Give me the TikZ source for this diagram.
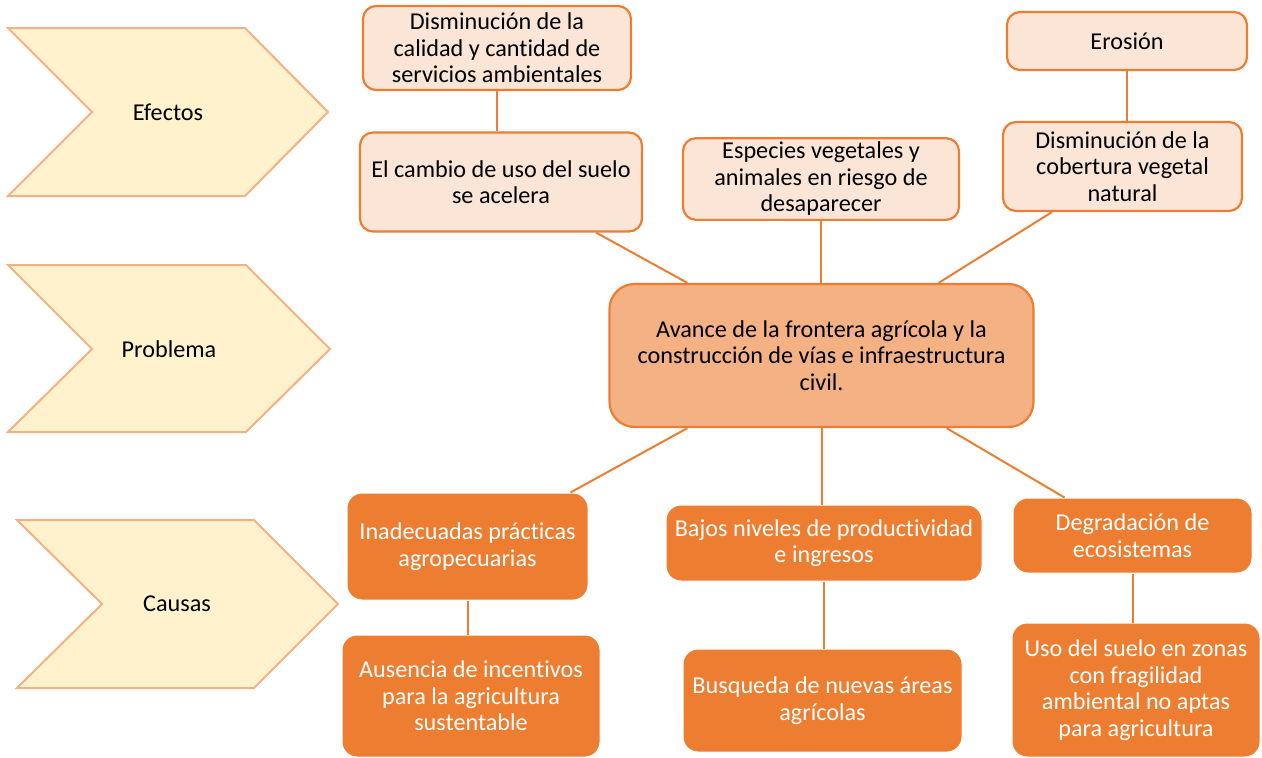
\documentclass[tikz,border=0pt]{standalone}
\usepackage{fontspec}
\setmainfont{Carlito}[Ligatures=NoCommon]
\usepackage{xcolor}
\usepackage{tikz}
\usetikzlibrary{positioning, calc}

\definecolor{naranja}{HTML}{ED7D31}
\definecolor{durazno}{HTML}{FBE5D6}
\definecolor{salmon}{HTML}{F4B183}
\definecolor{crema}{HTML}{FFF2CC}

\begin{document}
\begin{tikzpicture}[x=1pt, y=-1pt,
    font=\fontsize{24.2}{26.5}\selectfont,
    efecto/.style={draw=naranja, line width=2.2pt, fill=durazno, rounded corners=13pt, align=center, inner sep=4pt},
    causa/.style={draw=white, line width=1pt, fill=naranja, text=white, rounded corners=15pt, align=center, inner sep=4pt},
    nivel/.style={draw=salmon, line width=2pt, fill=crema},
    enlace/.style={draw=naranja, line width=2pt}]
    \useasboundingbox (0,0) rectangle (1262,758);

    % Niveles
    \draw[nivel] (8,28) -- (245,28) -- (328,112) -- (245,196) -- (8,196) -- (92,112) -- cycle;
    \node (efectos) at (168,112) {Efectos};
    \draw[nivel] (8,265) -- (246,265) -- (330,349) -- (246,432) -- (8,432) -- (92,349) -- cycle;
    \node (problema) at (169,349) {Problema};
    \draw[nivel] (17,520) -- (254,520) -- (338,604) -- (254,688) -- (17,688) -- (102,604) -- cycle;
    \node (causas) at (177,604) {Causas};

    % Efectos
    \node[efecto, minimum width=268pt, minimum height=84pt] (e1) at (497,48) {Disminución de la\\calidad y cantidad de\\servicios ambientales};
    \node[efecto, minimum width=282pt, minimum height=99pt] (e2) at (501,182) {El cambio de uso del suelo\\se acelera};
    \node[efecto, minimum width=276pt, minimum height=78pt] (e3) at (821,179) {Especies vegetales y\\animales en riesgo de\\desaparecer};
    \node[efecto, minimum width=240pt, minimum height=58pt] (e4) at (1127,41) {Erosión};
    \node[efecto, minimum width=239pt, minimum height=89pt] (e5) at (1122.5,166.5) {Disminución de la\\cobertura vegetal\\natural};

    % Problema
    \node[efecto, fill=salmon, rounded corners=25pt, minimum width=424pt, minimum height=143pt] (centro) at (821.5,355.5) {Avance de la frontera agrícola y la\\construcción de vías e infraestructura\\civil.};

    % Causas
    \node[causa, minimum width=241pt, minimum height=107pt] (c1) at (467.5,546.5) {Inadecuadas prácticas\\agropecuarias};
    \node[causa, minimum width=258pt, minimum height=122pt] (c2) at (471,696) {Ausencia de incentivos\\para la agricultura\\sustentable};
    \node[causa, minimum width=316pt, minimum height=76pt] (c3) at (824,543) {Bajos niveles de productividad\\e ingresos};
    \node[causa, minimum width=279pt, minimum height=103pt] (c4) at (822.5,700.5) {Busqueda de nuevas áreas\\agrícolas};
    \node[causa, minimum width=239pt, minimum height=75pt] (c5) at (1132.5,535.5) {Degradación de\\ecosistemas};
    \node[causa, minimum width=248pt, minimum height=134pt] (c6) at (1136,690) {Uso del suelo en zonas\\con fragilidad\\ambiental no aptas\\para agricultura};

    % Conectores
    \draw[enlace] (e1.south) -- (e1.south |- e2.north);
    \draw[enlace] ([xshift=-47pt]e2.south east) -- ([xshift=79pt]centro.north west);
    \draw[enlace] (e3.south) -- (e3.south |- centro.north);
    \draw[enlace] (e4.south) -- (e4.south |- e5.north);
    \draw[enlace] ([xshift=50pt]e5.south west) -- ([xshift=-96pt]centro.north east);
    \draw[enlace] ([xshift=79pt]centro.south west) -- ([xshift=-18pt]c1.north east);
    \draw[enlace] (centro.south) -- (centro.south |- c3.north);
    \draw[enlace] ([xshift=-88pt]centro.south east) -- ([xshift=52pt]c5.north west);
    \draw[enlace] (c1.south) -- (c1.south |- c2.north);
    \draw[enlace] (c3.south) -- (c3.south |- c4.north);
    \draw[enlace] (c5.south) -- (c5.south |- c6.north);
\end{tikzpicture}
\end{document}
